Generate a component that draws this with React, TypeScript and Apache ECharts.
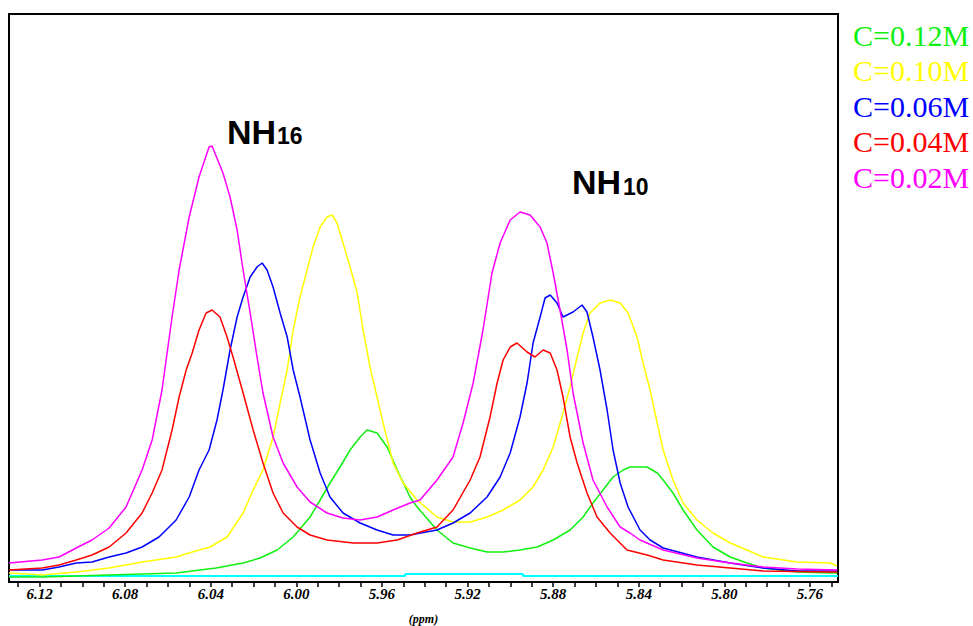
import React, { useEffect, useRef } from "react";
import * as echarts from "echarts";

// chemical shift (ppm) / intensity (arbitrary units)
const c012: [number, number][] = [
  [6.1343, 5], [6.1188, 5], [6.0875, 7], [6.0562, 9], [6.0375, 14], [6.0249, 19], [6.017, 24],
  [6.009, 32], [6.0015, 45], [5.9936, 65], [5.9889, 82], [5.9843, 99], [5.9796, 115], [5.9749, 132],
  [5.9702, 145], [5.967, 152], [5.9623, 149], [5.9576, 135], [5.9529, 112], [5.9469, 85], [5.9436, 75],
  [5.9343, 52], [5.9268, 39], [5.9188, 34], [5.9109, 30], [5.9034, 30], [5.8955, 32], [5.8875, 35],
  [5.88, 42], [5.8721, 52], [5.866, 65], [5.8614, 79], [5.8567, 92], [5.852, 105], [5.8473, 112],
  [5.8441, 115], [5.8361, 115], [5.8314, 109], [5.8286, 102], [5.824, 89], [5.8193, 72], [5.8128, 52],
  [5.8053, 35], [5.7973, 25], [5.7894, 19], [5.7819, 14], [5.766, 10], [5.7506, 9], [5.7473, 9],
];

const c010: [number, number][] = [
  [6.1343, 9], [6.1188, 7], [6.1029, 10], [6.0875, 14], [6.0721, 20], [6.0562, 25], [6.0487, 30],
  [6.0403, 35], [6.0324, 45], [6.0249, 69], [6.0202, 92], [6.0156, 112], [6.0109, 145], [6.0076, 179],
  [6.0043, 212], [6.0015, 252], [5.9983, 285], [5.995, 312], [5.9922, 335], [5.9889, 355], [5.9857, 365],
  [5.9833, 367], [5.981, 359], [5.9782, 339], [5.9749, 315], [5.9716, 289], [5.9688, 252], [5.9656, 215],
  [5.9623, 185], [5.9595, 159], [5.9548, 119], [5.9501, 99], [5.9436, 82], [5.9343, 65], [5.9268, 60],
  [5.9188, 60], [5.9109, 65], [5.9034, 72], [5.8955, 82], [5.8894, 95], [5.8847, 112], [5.88, 135],
  [5.8754, 169], [5.8721, 195], [5.8688, 225], [5.866, 249], [5.8628, 269], [5.8581, 279], [5.8534, 282],
  [5.8487, 279], [5.845, 269], [5.8408, 245], [5.838, 219], [5.8347, 192], [5.8314, 159], [5.8286, 132],
  [5.824, 102], [5.8193, 79], [5.8128, 62], [5.8053, 49], [5.7973, 39], [5.7894, 32], [5.7819, 25],
  [5.766, 20], [5.7506, 19], [5.7473, 16],
];

const c006: [number, number][] = [
  [6.1343, 12], [6.1188, 12], [6.1109, 15], [6.1029, 19], [6.0955, 20], [6.0875, 25], [6.0796, 29],
  [6.0721, 35], [6.0642, 45], [6.0562, 62], [6.0501, 85], [6.0455, 112], [6.0408, 132], [6.0371, 162],
  [6.0343, 192], [6.031, 232], [6.0277, 265], [6.0249, 285], [6.0216, 305], [6.0184, 315], [6.016, 319],
  [6.0137, 312], [6.0109, 295], [6.0076, 269], [6.0043, 245], [6.0015, 212], [5.9983, 185], [5.9936, 142],
  [5.9889, 109], [5.9843, 85], [5.9782, 69], [5.9702, 59], [5.9623, 52], [5.9548, 47], [5.9469, 47],
  [5.9343, 52], [5.9268, 59], [5.9188, 69], [5.9109, 85], [5.9048, 105], [5.9001, 129], [5.8955, 165],
  [5.8922, 199], [5.8894, 239], [5.8861, 265], [5.8838, 284], [5.8814, 287], [5.8782, 279], [5.8754, 265],
  [5.8707, 270], [5.8665, 277], [5.8642, 270], [5.8614, 245], [5.8581, 212], [5.8548, 172], [5.852, 132],
  [5.8487, 99], [5.845, 75], [5.8394, 52], [5.8347, 42], [5.8286, 34], [5.8128, 25], [5.7973, 19],
  [5.7819, 14], [5.766, 11], [5.7473, 11],
];

const c004: [number, number][] = [
  [6.1343, 12], [6.1188, 14], [6.1109, 17], [6.1029, 22], [6.0955, 27], [6.0875, 35], [6.0796, 49],
  [6.0721, 69], [6.0674, 89], [6.0628, 112], [6.0581, 152], [6.0548, 185], [6.0515, 212], [6.0487, 229],
  [6.0455, 252], [6.0422, 269], [6.0394, 272], [6.0357, 265], [6.0324, 245], [6.0296, 225], [6.0249, 189],
  [6.0202, 152], [6.0156, 119], [6.0109, 89], [6.0062, 69], [5.9997, 55], [5.9936, 47], [5.9857, 42],
  [5.9735, 39], [5.9623, 39], [5.9529, 42], [5.9436, 49], [5.9343, 55], [5.9268, 72], [5.9188, 102],
  [5.9142, 125], [5.9095, 165], [5.9062, 199], [5.9034, 222], [5.9001, 235], [5.8969, 239], [5.8922, 230],
  [5.8885, 225], [5.8847, 232], [5.8814, 229], [5.8782, 212], [5.8754, 185], [5.8721, 145], [5.8688, 119],
  [5.8642, 89], [5.8595, 65], [5.8534, 49], [5.8455, 32], [5.8361, 27], [5.8286, 22], [5.8128, 17],
  [5.7973, 14], [5.7819, 11], [5.7506, 10], [5.7473, 10],
];

const c002: [number, number][] = [
  [6.1343, 19], [6.1188, 22], [6.1109, 25], [6.1029, 34], [6.0955, 42], [6.0875, 54], [6.0796, 75],
  [6.0721, 112], [6.0674, 142], [6.0628, 192], [6.0581, 265], [6.0548, 312], [6.0501, 365], [6.0455, 405],
  [6.0408, 435], [6.0394, 436], [6.0343, 409], [6.031, 385], [6.0277, 352], [6.0249, 312], [6.0216, 269],
  [6.0184, 225], [6.0156, 189], [6.0109, 145], [6.0062, 119], [5.9997, 95], [5.9936, 80], [5.9857, 69],
  [5.9782, 64], [5.9702, 62], [5.9623, 65], [5.9548, 72], [5.9469, 79], [5.9422, 82], [5.9343, 102],
  [5.9268, 125], [5.9221, 159], [5.9174, 199], [5.9128, 252], [5.9086, 309], [5.9048, 339], [5.9001, 362],
  [5.8955, 370], [5.8908, 367], [5.8861, 355], [5.8829, 339], [5.88, 309], [5.8768, 272], [5.8735, 232],
  [5.8707, 189], [5.866, 139], [5.8614, 102], [5.8548, 75], [5.8487, 55], [5.8441, 49], [5.8394, 42],
  [5.8286, 32], [5.8128, 24], [5.7973, 19], [5.7819, 15], [5.766, 13], [5.7473, 12],
];

const baseline: [number, number][] = [
  [6.1343, 6], [5.9492, 6], [5.9492, 8], [5.8941, 8], [5.8941, 6], [5.7469, 6],
];

const seriesNames = ["C=0.12M", "C=0.10M", "C=0.06M", "C=0.04M", "C=0.02M"];
const seriesColors = ["#10f010", "#ffff00", "#0000ff", "#ff0000", "#ff00ff"];
const seriesData = [c012, c010, c006, c004, c002];

const tickValues = [
  6.13, 6.12, 6.11, 6.1, 6.09, 6.08, 6.07, 6.06, 6.05, 6.04, 6.03, 6.02, 6.01, 6.0, 5.99, 5.98, 5.97,
  5.96, 5.95, 5.94, 5.93, 5.92, 5.91, 5.9, 5.89, 5.88, 5.87, 5.86, 5.85, 5.84, 5.83, 5.82, 5.81, 5.8,
  5.79, 5.78, 5.77, 5.76, 5.75,
];
const labelValues = [6.12, 6.08, 6.04, 6.0, 5.96, 5.92, 5.88, 5.84, 5.8, 5.76];

export default function App() {
  const ref = useRef<HTMLDivElement>(null);
  useEffect(() => {
    if (!ref.current) return;
    const chart = echarts.init(ref.current, null, { renderer: "svg" });
    const serif = "'Liberation Serif', 'Times New Roman', serif";
    const sans = "'Liberation Sans', Arial, sans-serif";
    chart.setOption({
      animation: false,
      backgroundColor: "#fff",
      grid: {
        left: 9, top: 14, right: 135, bottom: 44,
        outerBoundsMode: "none",
        containLabel: false,
        show: true, borderColor: "#000", borderWidth: 2, backgroundColor: "transparent",
      },
      legend: {
        orient: "vertical",
        left: 843,
        top: 15,
        itemGap: 5.5,
        itemWidth: 0,
        itemHeight: 30,
        itemTextGap: 0,
        icon: "none",
        selectedMode: false,
        textStyle: { fontFamily: serif, fontSize: 30 },
        data: seriesNames.map((n, i) => ({ name: n, icon: "none", textStyle: { color: seriesColors[i] } })),
      },
      xAxis: {
        type: "value",
        inverse: true,
        min: 5.7469,
        max: 6.1343,
        name: "(ppm)",
        nameLocation: "middle",
        nameGap: 31,
        nameTextStyle: { fontFamily: serif, fontStyle: "italic", fontWeight: "bold", fontSize: 12, color: "#000" },
        axisLine: { show: true, onZero: false, lineStyle: { color: "#000", width: 2 } },
        axisTick: { show: true, customValues: tickValues, length: 5, lineStyle: { color: "#000", width: 1.5 } },
        axisLabel: {
          customValues: labelValues,
          formatter: (v: number) => v.toFixed(2),
          fontFamily: serif, fontStyle: "italic", fontWeight: "bold", fontSize: 15, color: "#000", margin: 4,
        },
        splitLine: { show: false },
      },
      yAxis: { type: "value", min: 0, max: 568, show: false },
      series: [
        {
          name: "baseline", type: "line", data: baseline, showSymbol: false, silent: true,
          lineStyle: { color: "#00ffff", width: 2 },
        },
        ...seriesNames.map((n, i) => ({
          name: n,
          type: "line",
          data: seriesData[i],
          showSymbol: false,
          color: seriesColors[i],
          lineStyle: { color: seriesColors[i], width: 1.5 },
        })),
      ],
      graphic: [
        { type: "text", left: 227, top: 115, style: { text: "NH", fontFamily: sans, fontWeight: "bold", fontSize: 34, fill: "#000" } },
        { type: "text", left: 277, top: 124, style: { text: "16", fontFamily: sans, fontWeight: "bold", fontSize: 23, fill: "#000" } },
        { type: "text", left: 572, top: 165, style: { text: "NH", fontFamily: sans, fontWeight: "bold", fontSize: 34, fill: "#000" } },
        { type: "text", left: 623, top: 175, style: { text: "10", fontFamily: sans, fontWeight: "bold", fontSize: 23, fill: "#000" } },
      ],
    });
    return () => chart.dispose();
  }, []);
  return (
    <div
      ref={ref}
      style={{ position: "fixed", left: 0, top: 0, width: 973, height: 626, background: "#fff" }}
    />
  );
}
